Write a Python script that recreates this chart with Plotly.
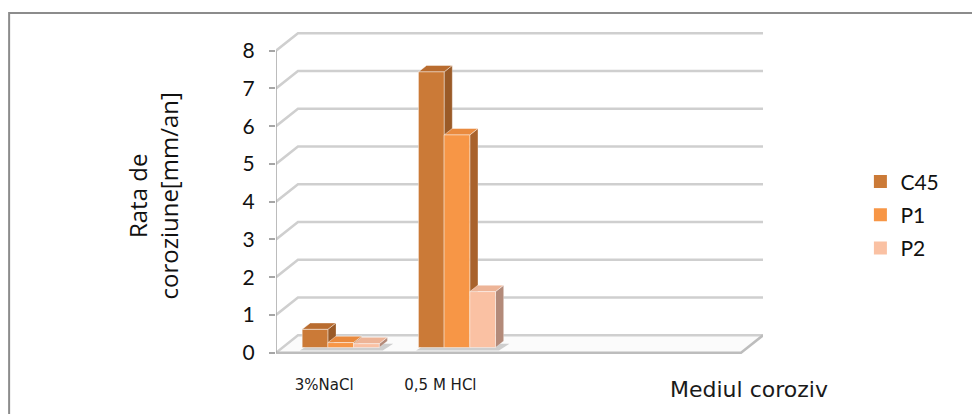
import plotly.graph_objects as go

# Corrosion rate per medium and material
categories = ["3%NaCl", "0,5 M HCl", "", ""]
series_names = ["C45", "P1", "P2"]
c45 = [0.48, 7.3]
p1 = [0.13, 5.63]
p2 = [0.1, 1.48]
y_ticks = [0, 1, 2, 3, 4, 5, 6, 7, 8]

values = [c45, p1, p2]

# Face colours: front, top, side
front_col = ["#CB7A37", "#F79646", "#FAC1A3"]
top_col = ["#B96C2F", "#E98A3E", "#EDB497"]
side_col = ["#9A5A27", "#A9622C", "#B38A79"]

# Pseudo-3D geometry (data units)
WALL_DX, WALL_DY = 0.189, 0.461   # full depth of the box
BAR_W = 0.221
BAR_FRONT = 0.30                   # depth fraction where bars start
BAR_DEPTH = 0.37                   # depth fraction occupied by bars
bdx, bdy = WALL_DX * BAR_DEPTH, WALL_DY * BAR_DEPTH
base = WALL_DY * BAR_FRONT
shift = WALL_DX * BAR_FRONT

x_left, x_right = -0.5, len(categories) - 0.5

fig = go.Figure()


def poly(xs, ys, fill, line="rgba(0,0,0,0)", lw=0):
    fig.add_trace(go.Scatter(
        x=list(xs) + [xs[0]], y=list(ys) + [ys[0]], mode="lines",
        fill="toself", fillcolor=fill, line=dict(color=line, width=lw),
        hoverinfo="skip", showlegend=False))


def seg(xs, ys, color, width):
    fig.add_trace(go.Scatter(x=xs, y=ys, mode="lines",
                             line=dict(color=color, width=width),
                             hoverinfo="skip", showlegend=False))


# Floor
poly([x_left, x_right, x_right + WALL_DX, x_left + WALL_DX],
     [0, 0, WALL_DY, WALL_DY], "#FBFBFB")

# Back wall gridlines and left-wall diagonals
for v in y_ticks:
    seg([x_left, x_left + WALL_DX, x_right + WALL_DX],
        [v, v + WALL_DY, v + WALL_DY], "#CFCFCF", 2.5)

# Floor edges
seg([x_left, x_right, x_right + WALL_DX], [0, 0, WALL_DY], "#BDBDBD", 2.5)
# Front vertical axis line
seg([x_left, x_left], [0, y_ticks[-1]], "#A6A6A6", 1.5)

# Bars
n_ser = len(values)
for i in range(len(c45)):
    g_left = i + shift - n_ser * BAR_W / 2
    g_right = g_left + n_ser * BAR_W
    # soft shadow on the floor
    poly([g_left - 0.02, g_right + 0.03, g_right + bdx + 0.05, g_left + bdx],
         [base - 0.08, base - 0.08, base + bdy * 0.6, base + bdy * 0.6],
         "rgba(150,150,150,0.45)")
    for k in range(n_ser):
        v = values[k][i]
        xl = g_left + k * BAR_W
        xr = xl + BAR_W
        top = base + v
        poly([xr, xr + bdx, xr + bdx, xr],
             [base, base + bdy, top + bdy, top], side_col[k],
             "rgba(255,255,255,0.35)", 0.8)
        poly([xl, xr, xr + bdx, xl + bdx],
             [top, top, top + bdy, top + bdy], top_col[k],
             "rgba(255,255,255,0.55)", 0.8)
        poly([xl, xr, xr, xl], [base, base, top, top], front_col[k],
             "rgba(255,255,255,0.55)", 0.8)

# Legend entries
for k, name in enumerate(series_names):
    fig.add_trace(go.Scatter(
        x=[None], y=[None], mode="markers", name=name,
        marker=dict(symbol="square", size=13, color=front_col[k]),
        legendgroup=name))

fig.update_layout(
    width=972, height=414,
    margin=dict(l=276, r=209, t=30, b=58),
    paper_bgcolor="white", plot_bgcolor="white",
    xaxis=dict(range=[-0.5, 3.689], tickmode="array",
               tickvals=list(range(len(categories))), ticktext=categories,
               showgrid=False, zeroline=False, showline=False, ticks="",
               tickfont=dict(family="DejaVu Sans", size=15, color="#1A1A1A"),
               ticklabelstandoff=18, ticklabelshift=-10, fixedrange=True),
    yaxis=dict(range=[-0.087, 8.548], tickmode="array", tickvals=y_ticks,
               showgrid=False, zeroline=False, showline=False,
               ticks="outside", ticklen=6, tickwidth=1.5, tickcolor="#A6A6A6",
               tickfont=dict(family="Lato", size=21, color="#111111"),
               ticklabelstandoff=10, fixedrange=True),
    showlegend=True,
    legend=dict(x=1.2, y=0.433, xanchor="left", yanchor="middle",
                font=dict(family="Lato", size=21, color="#111111"),
                tracegroupgap=3, bgcolor="rgba(0,0,0,0)"),
    annotations=[
        dict(text="Rata de<br>coroziune[mm/an]", textangle=-90,
             xref="paper", yref="paper", x=-0.252, y=0.49,
             xanchor="center", yanchor="middle", showarrow=False,
             font=dict(family="Open Sans", size=24, color="#111111")),
        dict(text="Mediul coroziv", xref="paper", yref="paper",
             x=0.971, y=-0.104, xanchor="center", yanchor="middle",
             showarrow=False,
             font=dict(family="DejaVu Sans", size=22, color="#1A1A1A")),
    ],
    shapes=[dict(type="rect", xref="paper", yref="paper",
                 x0=-0.548, x1=1.8, y0=-0.6, y1=1.052,
                 line=dict(color="#8C8C8C", width=2), layer="below")],
)

fig.write_html("out.html")
